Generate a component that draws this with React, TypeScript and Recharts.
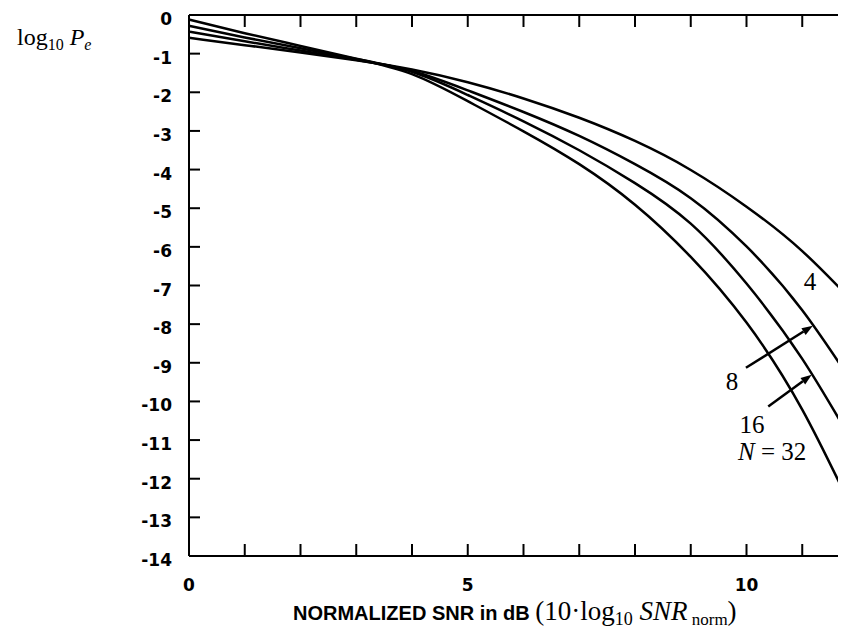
import { LineChart, Line, XAxis, YAxis, ReferenceDot, ReferenceLine } from "recharts";

// normalized SNR in dB
const snrDb = [0, 1, 2, 3, 4, 5, 6, 7, 8, 9, 10, 11, 12];
// log10 Pe for each N
const pe4 = [-0.59, -0.78, -0.97, -1.17, -1.41, -1.74, -2.16, -2.66, -3.26, -4.01, -4.96, -6.11, -7.56];
const pe8 = [-0.43, -0.68, -0.92, -1.16, -1.45, -1.95, -2.51, -3.13, -3.86, -4.74, -5.99, -7.64, -9.74];
const pe16 = [-0.28, -0.58, -0.86, -1.14, -1.47, -2.07, -2.75, -3.5, -4.35, -5.4, -6.95, -8.9, -11.3];
const pe32 = [-0.12, -0.47, -0.8, -1.13, -1.53, -2.23, -3.01, -3.86, -4.91, -6.26, -7.96, -10.21, -13.11];

const xLabelTicks = [0, 5, 10];
const xMinorTicks = [0, 1, 2, 3, 4, 5, 6, 7, 8, 9, 10, 11, 12];
const yTicks = [0, -1, -2, -3, -4, -5, -6, -7, -8, -9, -10, -11, -12, -13, -14];

const rows = snrDb.map((x, i) => ({ x, n4: pe4[i], n8: pe8[i], n16: pe16[i], n32: pe32[i] }));

const SANS = "'DejaVu Sans', sans-serif";
const SERIF = "'Liberation Serif', 'Times New Roman', serif";

// eslint-disable-next-line @typescript-eslint/no-explicit-any
const YTick = ({ x, y, payload }: any) => (
  <text x={x} y={y} dy={10} textAnchor="end" fontFamily={SANS} fontWeight="bold" fontSize={17} fill="#000">
    {payload.value}
  </text>
);

// eslint-disable-next-line @typescript-eslint/no-explicit-any
const XTick = ({ x, y, payload }: any) => (
  <text x={x} y={y} dy={12.5} textAnchor="middle" fontFamily={SANS} fontWeight="bold" fontSize={17} fill="#000">
    {payload.value}
  </text>
);

// tick lines only, no text
const NoTick = () => <g />;

// eslint-disable-next-line @typescript-eslint/no-explicit-any
const YTitle = ({ viewBox }: any) => (
  <text x={viewBox.x + 9} y={viewBox.y + 30} fontFamily={SERIF} fontSize={24} fill="#000">
    log
    <tspan fontSize={16} dy={5}>10</tspan>
    <tspan fontStyle="italic" dy={-5}>{" P"}</tspan>
    <tspan fontStyle="italic" fontSize={16} dy={5}>e</tspan>
  </text>
);

// eslint-disable-next-line @typescript-eslint/no-explicit-any
const XTitle = ({ viewBox }: any) => (
  <text x={viewBox.x + 104} y={viewBox.y + 64} fill="#000">
    <tspan fontFamily="'Liberation Sans', Arial, sans-serif" fontWeight="bold" fontSize={20}>NORMALIZED SNR in dB </tspan>
    <tspan fontFamily={SERIF} fontSize={27}>(10·log</tspan>
    <tspan fontFamily={SERIF} fontSize={18} dy={5}>10</tspan>
    <tspan fontFamily={SERIF} fontStyle="italic" fontSize={27} dy={-5}>{" SNR"}</tspan>
    <tspan fontFamily={SERIF} fontSize={17} dy={5}>{" norm"}</tspan>
    <tspan fontFamily={SERIF} fontSize={27} dy={-5}>)</tspan>
  </text>
);

// eslint-disable-next-line @typescript-eslint/no-explicit-any
const curveLabel = (text: string, italicN = false) => ({ viewBox }: any) => (
  <text x={viewBox.x} y={viewBox.y} dy={8} textAnchor="middle" fontFamily={SERIF} fontSize={25} fill="#000">
    {italicN && <tspan fontStyle="italic">N</tspan>}
    {text}
  </text>
);

// eslint-disable-next-line @typescript-eslint/no-explicit-any
const Arrow = (p: any) => {
  const { x1, y1, x2, y2 } = p;
  const len = Math.hypot(x2 - x1, y2 - y1) || 1;
  const ux = (x2 - x1) / len;
  const uy = (y2 - y1) / len;
  const bx = x2 - ux * 11;
  const by = y2 - uy * 11;
  const head = `${x2},${y2} ${bx - uy * 4},${by + ux * 4} ${bx + uy * 4},${by - ux * 4}`;
  return (
    <g>
      <line x1={x1} y1={y1} x2={bx} y2={by} stroke="#000" strokeWidth={2.5} />
      <polygon points={head} fill="#000" />
    </g>
  );
};

const tickStroke = { stroke: "#000", strokeWidth: 2 };

export default function App() {
  return (
    <div style={{ width: 838, height: 620, overflow: "hidden", background: "#fff" }}>
      <LineChart width={870} height={620} data={rows} margin={{ top: 7, right: 20, bottom: 0, left: 0 }}>
        <XAxis
          xAxisId="x"
          dataKey="x"
          type="number"
          domain={[0, 12]}
          ticks={xLabelTicks}
          interval={0}
          tickLine={false}
          tickSize={0}
          tickMargin={22}
          tick={<XTick />}
          height={72}
          axisLine={tickStroke}
          label={{ content: <XTitle /> }}
        />
        <XAxis xAxisId="xb" dataKey="x" type="number" domain={[0, 12]} ticks={xMinorTicks} interval={0}
          mirror tick={NoTick} tickSize={12} tickLine={tickStroke} axisLine={false} allowDataOverflow />
        <XAxis xAxisId="xt" orientation="top" dataKey="x" type="number" domain={[0, 12]} ticks={xMinorTicks} interval={0}
          mirror tick={NoTick} tickSize={12} tickLine={tickStroke} axisLine={tickStroke} allowDataOverflow />
        <YAxis
          yAxisId="y"
          type="number"
          domain={[-14, 0]}
          ticks={yTicks}
          interval={0}
          width={181}
          tickLine={false}
          tickSize={0}
          tickMargin={17}
          tick={<YTick />}
          axisLine={tickStroke}
          label={{ content: <YTitle /> }}
        />
        <YAxis yAxisId="yl" type="number" domain={[-14, 0]} ticks={yTicks} interval={0}
          mirror tick={NoTick} tickSize={11} tickLine={tickStroke} axisLine={false} allowDataOverflow />
        <YAxis yAxisId="yr" orientation="right" type="number" domain={[-14, 0]} ticks={yTicks} interval={0}
          mirror tick={NoTick} tickSize={13} tickLine={tickStroke} axisLine={tickStroke} allowDataOverflow />

        <Line xAxisId="x" yAxisId="y" type="natural" dataKey="n4" stroke="#000" strokeWidth={2.5} dot={false} isAnimationActive={false} />
        <Line xAxisId="x" yAxisId="y" type="natural" dataKey="n8" stroke="#000" strokeWidth={2.5} dot={false} isAnimationActive={false} />
        <Line xAxisId="x" yAxisId="y" type="natural" dataKey="n16" stroke="#000" strokeWidth={2.5} dot={false} isAnimationActive={false} />
        <Line xAxisId="x" yAxisId="y" type="natural" dataKey="n32" stroke="#000" strokeWidth={2.5} dot={false} isAnimationActive={false} />

        <ReferenceLine xAxisId="x" yAxisId="y" segment={[{ x: 9.99, y: -9.13 }, { x: 11.19, y: -8.04 }]} shape={Arrow} />
        <ReferenceLine xAxisId="x" yAxisId="y" segment={[{ x: 10.39, y: -10.13 }, { x: 11.17, y: -9.31 }]} shape={Arrow} />

        <ReferenceDot xAxisId="x" yAxisId="y" x={11.14} y={-6.9} r={0} label={{ content: curveLabel("4") }} />
        <ReferenceDot xAxisId="x" yAxisId="y" x={9.74} y={-9.49} r={0} label={{ content: curveLabel("8") }} />
        <ReferenceDot xAxisId="x" yAxisId="y" x={10.1} y={-10.6} r={0} label={{ content: curveLabel("16") }} />
        <ReferenceDot xAxisId="x" yAxisId="y" x={10.46} y={-11.3} r={0} label={{ content: curveLabel(" = 32", true) }} />
      </LineChart>
    </div>
  );
}
